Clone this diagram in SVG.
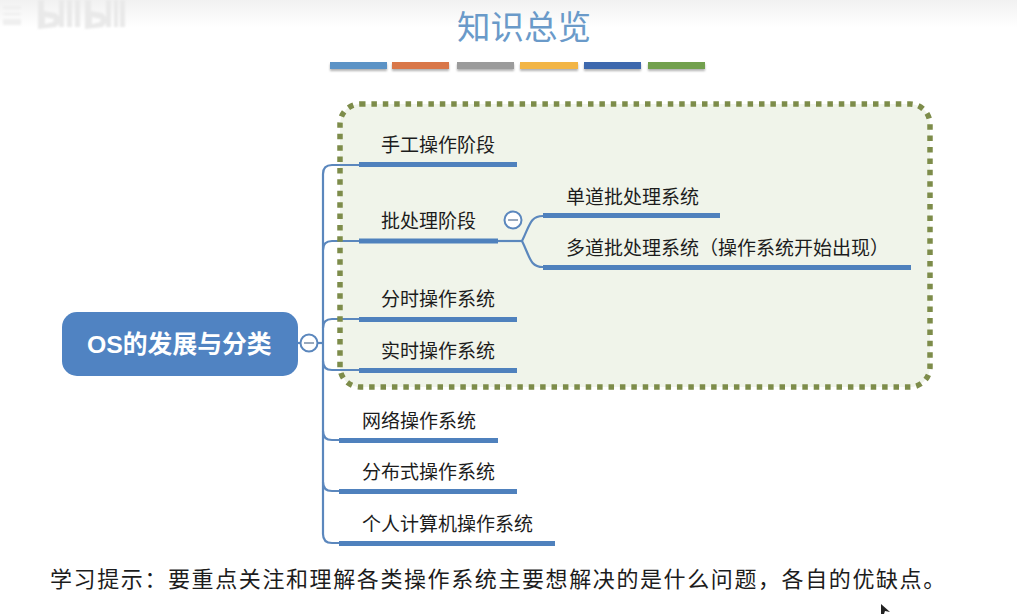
<svg xmlns="http://www.w3.org/2000/svg" width="1017" height="614" viewBox="0 0 1017 614">
<defs>
<linearGradient id="top" x1="0" y1="0" x2="0" y2="1"><stop offset="0" stop-color="#f1f1f1"/><stop offset="1" stop-color="#ffffff"/></linearGradient>
<filter id="soft" x="-10%" y="-50%" width="120%" height="220%"><feDropShadow dx="0" dy="2" stdDeviation="1.2" flood-color="#000" flood-opacity="0.3"/></filter>
<filter id="wm" x="-5%" y="-10%" width="110%" height="120%"><feGaussianBlur stdDeviation="0.8"/></filter>
</defs>
<style>
text{font-family:"Liberation Sans","Noto Sans CJK SC",sans-serif;fill:#1c1c1c}
.l{font-size:19px}
.bar{fill:#4f81bd}
.c{fill:none;stroke:#5b87bd;stroke-width:2.2}
.t{fill:#fff;stroke:#5b87bd;stroke-width:2}
.m{stroke:#7f93ad;stroke-width:1.6}
</style>
<rect width="1017" height="28" fill="url(#top)"/>
<g id="watermark" fill="#e9e9e9" filter="url(#wm)">
<path d="M3 6H21V9H3ZM3 13H21V15H3ZM3 19H21V25H3Z" fill="#efefef"/>
<path d="M38 0H44V11L56 13L62 20L56 27L38 29ZM45 17V24L53 22L54 19Z" fill-rule="evenodd"/>
<path d="M59 0H64V27H59ZM67 0H72V27H67ZM75 0H80V27H75Z"/>
<path d="M85 0H91V11L103 13L108 20L103 27L85 29ZM92 17V24L100 22L101 19Z" fill-rule="evenodd"/>
<path d="M106 0H111V27H106ZM114 0H118V27H114ZM120 0H125V27H120Z"/>
</g>
<text x="457" y="39" style="font-size:33.5px;fill:#6a9ac9">知识总览</text>
<g id="palette" filter="url(#soft)">
<rect x="330" y="62" width="57" height="7" fill="#5b93c6"/>
<rect x="392" y="62" width="57" height="7" fill="#d9774a"/>
<rect x="457" y="62" width="57" height="7" fill="#9b9b9b"/>
<rect x="520" y="62" width="58" height="7" fill="#f2b544"/>
<rect x="584" y="62" width="57" height="7" fill="#3e68ad"/>
<rect x="648" y="62" width="57" height="7" fill="#72a04e"/>
</g>
<rect id="highlight" x="340" y="104" width="590" height="283" rx="20" ry="20" fill="#f0f4ea"/>
<g id="connectors">
<path class="c" d="M298 343H322"/>
<path class="c" d="M359 165H332Q323 165 323 174V534Q323 543 332 543H340"/>
<path class="c" d="M359 241H332Q323 241 323 250"/>
<path class="c" d="M359 319H332Q323 319 323 328"/>
<path class="c" d="M359 370H332Q323 370 323 361"/>
<path class="c" d="M340 440H332Q323 440 323 431"/>
<path class="c" d="M340 491H332Q323 491 323 482"/>
<path class="c" d="M498 241H522"/>
<path class="c" d="M543 216C530 216 530 225 522 241C530 257 530 267 543 267"/>
</g>
<rect id="highlight-border" x="340" y="104" width="590" height="283" rx="20" ry="20" fill="none" stroke="#7d8c4a" stroke-width="5.500" stroke-dasharray="5.500 5.900"/>
<g id="root">
<rect x="62" y="312" width="236" height="64" rx="15" fill="#5083c2"/>
<text x="87" y="353" style="font-size:24.800px;font-weight:700;fill:#fff">OS的发展与分类</text>
</g>
<g id="toggle-root"><circle class="t" cx="309" cy="343" r="8.500"/><path class="m" d="M304 343H314"/></g>
<g id="n1"><rect class="bar" x="359" y="162" width="158" height="5"/><text class="l" x="381" y="152">手工操作阶段</text></g>
<g id="n2"><rect class="bar" x="359" y="238.500" width="139" height="5"/><text class="l" x="381" y="228">批处理阶段</text></g>
<g id="toggle-n2"><circle class="t" cx="513" cy="220" r="8.500"/><path class="m" d="M508 220H518"/></g>
<g id="n21"><rect class="bar" x="543" y="213" width="177" height="5"/><text class="l" x="566" y="204">单道批处理系统</text></g>
<g id="n22"><rect class="bar" x="543" y="265" width="368" height="5"/><text class="l" x="566" y="255">多道批处理系统&#xFF08;操作系统开始出现&#xFF09;</text></g>
<g id="n3"><rect class="bar" x="359" y="317" width="158" height="5"/><text class="l" x="381" y="306">分时操作系统</text></g>
<g id="n4"><rect class="bar" x="359" y="368" width="158" height="5"/><text class="l" x="381" y="358">实时操作系统</text></g>
<g id="n5"><rect class="bar" x="339" y="438" width="159" height="5"/><text class="l" x="362" y="428">网络操作系统</text></g>
<g id="n6"><rect class="bar" x="339" y="489" width="178" height="5"/><text class="l" x="362" y="479">分布式操作系统</text></g>
<g id="n7"><rect class="bar" x="339" y="541" width="216" height="5"/><text class="l" x="362" y="531">个人计算机操作系统</text></g>
<text x="50" y="587" style="font-size:22px;letter-spacing:1.600px">学习提示&#xFF1A;要重点关注和理解各类操作系统主要想解决的是什么问题&#xFF0C;各自的优缺点。</text>
<path id="cursor" d="M881 604V614H884L885 611L890 612Z" fill="#222"/>
</svg>
